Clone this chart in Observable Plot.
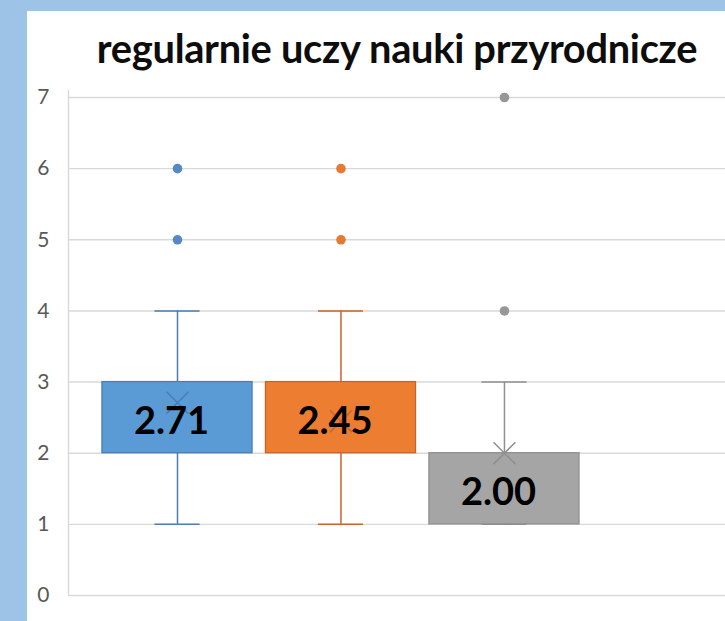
<!DOCTYPE html>
<html>
<head>
<meta charset="utf-8">
<script src="https://cdn.jsdelivr.net/npm/d3@7"></script>
<script src="https://cdn.jsdelivr.net/npm/@observablehq/plot@0.6"></script>
<style>
  html, body { margin: 0; padding: 0; }
  body { width: 725px; height: 621px; overflow: hidden; background: #9DC3E6; position: relative; font-family: Lato, "Open Sans", sans-serif; }
  #panel { position: absolute; left: 27px; top: 11px; width: 698px; height: 610px; background: #fff; }
  #title { position: absolute; left: 0; top: 28px; width: 794px; text-align: center; font-weight: 700; font-size: 39.8px; line-height: 39px; color: #0d0d0d; white-space: nowrap; letter-spacing: -0.3px; }
  #chart { position: absolute; left: 27px; top: 70px; }
</style>
</head>
<body>
<div id="panel"></div>
<div id="title">regularnie uczy nauki przyrodnicze</div>
<div id="chart"></div>
<script>
// Data
const categories = ["seria 1", "seria 2", "seria 3"];
const q1 = [2, 2, 1];
const q3 = [3, 3, 2];
const whiskerLow = [1, 1, 1];
const whiskerHigh = [4, 4, 3];
const means = [2.71, 2.45, 2.00];
const outliers = [[5, 6], [5, 6], [4, 7]];
const yTicks = [0, 1, 2, 3, 4, 5, 6, 7];

// Styling
const fillColors = ["#5B9BD5", "#ED7D31", "#A5A5A5"];
const lineColors = ["#4A7DB5", "#C8642A", "#8F8F8F"];
const dotColors = ["#5589C4", "#E57A33", "#979797"];

const idx = d3.range(categories.length);
const pos = i => i + 1;
const halfBox = 0.459;
const halfCap = 0.138;
const outlierData = idx.flatMap(i => outliers[i].map(v => ({i, v})));

const chart = Plot.plot({
  width: 698,
  height: 551,
  marginTop: 27,
  marginBottom: 26,
  marginLeft: 41,
  marginRight: 0,
  style: {background: "transparent", fontFamily: "Lato, 'Open Sans', sans-serif", overflow: "visible"},
  x: {domain: [0.3333, 4.352], axis: null},
  y: {domain: [0, 7], axis: null},
  color: {type: "identity"},
  marks: [
    Plot.ruleY(yTicks, {stroke: "#d9d9d9", strokeWidth: 1.4}),
    Plot.ruleX([0.3333], {y1: 0, y2: 7.1, stroke: "#d9d9d9", strokeWidth: 1.4}),
    Plot.axisY({ticks: yTicks, label: null, tickSize: 0, tickPadding: 19, fontSize: 21, fill: "#595959", tickFormat: d => String(d)}),
    // whisker stems
    Plot.ruleX(idx, {x: pos, y1: i => whiskerLow[i], y2: i => whiskerHigh[i], stroke: i => lineColors[i], strokeWidth: 1.5}),
    // whisker caps
    Plot.ruleY(idx, {y: i => whiskerHigh[i], x1: i => pos(i) - halfCap, x2: i => pos(i) + halfCap, stroke: i => lineColors[i], strokeWidth: 1.5}),
    Plot.ruleY(idx, {y: i => whiskerLow[i], x1: i => pos(i) - halfCap, x2: i => pos(i) + halfCap, stroke: i => lineColors[i], strokeWidth: 1.5}),
    // boxes
    Plot.rect(idx, {x1: i => pos(i) - halfBox, x2: i => pos(i) + halfBox, y1: i => q1[i], y2: i => q3[i], fill: i => fillColors[i], stroke: i => lineColors[i], strokeWidth: 1.3}),
    // outliers
    Plot.dot(outlierData, {x: d => pos(d.i), y: "v", r: 4.8, fill: d => dotColors[d.i], stroke: "none"}),
    // means
    Plot.dot(idx, {x: pos, y: i => means[i], symbol: "times", r: 10, stroke: i => lineColors[i], strokeWidth: 1.5}),
    // mean labels
    Plot.text(idx, {x: pos, y: i => (q1[i] + q3[i]) / 2, text: i => means[i].toFixed(2), dx: -6, dy: 4, fontSize: 38, fontWeight: "bold", fill: "#000", fontFamily: "Lato, 'Open Sans', sans-serif"})
  ]
});
document.getElementById("chart").appendChild(chart);
</script>
</body>
</html>
